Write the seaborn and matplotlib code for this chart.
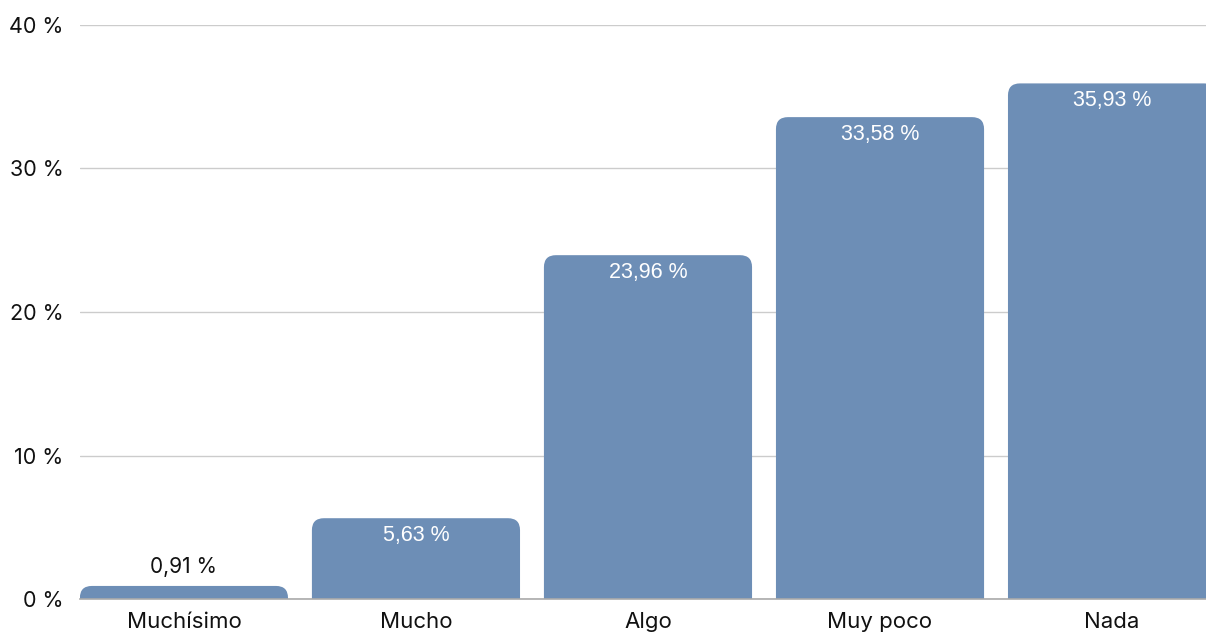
import matplotlib
matplotlib.use("Agg")
import matplotlib.pyplot as plt
from matplotlib.path import Path
from matplotlib.patches import PathPatch
import seaborn as sns
import pandas as pd

CATEGORIES = ["Muchísimo", "Mucho", "Algo", "Muy poco", "Nada"]
VALUES = [0.91, 5.63, 23.96, 33.58, 35.93]
LABELS = ["0,91 %", "5,63 %", "23,96 %", "33,58 %", "35,93 %"]
Y_TICKS = [0, 10, 20, 30, 40]
Y_TICK_LABELS = ["0 %", "10 %", "20 %", "30 %", "40 %"]

BAR_COLOR = "#6d8eb6"
W, H, DPI = 1206, 632, 100


def rounded_top(x0, x1, h, rx, ry):
    ry = min(ry, h)
    verts = [(x0, 0), (x0, h - ry), (x0, h), (x0 + rx, h),
             (x1 - rx, h), (x1, h), (x1, h - ry), (x1, 0), (x0, 0)]
    codes = [Path.MOVETO, Path.LINETO, Path.CURVE3, Path.CURVE3,
             Path.LINETO, Path.CURVE3, Path.CURVE3, Path.LINETO, Path.CLOSEPOLY]
    return Path(verts, codes)


sns.set_style("white")
plt.rcParams["font.family"] = ["Inter", "DejaVu Sans"]

df = pd.DataFrame({"cat": CATEGORIES, "val": VALUES})

fig = plt.figure(figsize=(W / DPI, H / DPI), dpi=DPI)
ax = fig.add_axes([80 / W, 33 / H, (W - 80) / W, (599 - 25) / H])

sns.barplot(data=df, x="cat", y="val", color=BAR_COLOR, width=0.897,
            saturation=1, ax=ax, zorder=3)

ax.set_xlim(-0.448, 4.405)
ax.set_ylim(0, 40)

# px -> data scale for corner radius
px_x = (4.405 + 0.448) / (W - 80)
px_y = 40 / (599 - 25)
r = 12
for p in list(ax.patches):
    x0 = p.get_x()
    x1 = x0 + p.get_width()
    h = p.get_height()
    p.set_visible(False)
    ax.add_patch(PathPatch(rounded_top(x0, x1, h, r * px_x, r * px_y),
                           facecolor=BAR_COLOR, edgecolor="none", zorder=3))

for i, (v, lab) in enumerate(zip(VALUES, LABELS)):
    if v > 3:
        ax.annotate(lab, (i, v), xytext=(0, -12.5), textcoords="offset points",
                    ha="center", va="center", color="white", fontsize=15.5,
                    family=["Liberation Sans", "DejaVu Sans"], zorder=4)
    else:
        ax.annotate(lab, (i, v), xytext=(0, 13.5), textcoords="offset points",
                    ha="center", va="center", color="#111111", fontsize=15,
                    zorder=4)

ax.set_yticks(Y_TICKS)
ax.set_yticklabels(Y_TICK_LABELS)
ax.yaxis.grid(True, color="#cccccc", linewidth=1, zorder=0)
ax.set_axisbelow(True)
ax.tick_params(axis="y", length=0, pad=12, labelsize=15.5, labelcolor="#111111")
ax.tick_params(axis="x", length=0, pad=9, labelsize=16, labelcolor="#111111")
ax.set_xlabel("")
ax.set_ylabel("")

for s in ["top", "right", "left"]:
    ax.spines[s].set_visible(False)
ax.spines["bottom"].set_color("#aaaaaa")
ax.spines["bottom"].set_linewidth(1.2)
ax.spines["bottom"].set_zorder(5)

fig.savefig("out.png", dpi=DPI, facecolor="white")
